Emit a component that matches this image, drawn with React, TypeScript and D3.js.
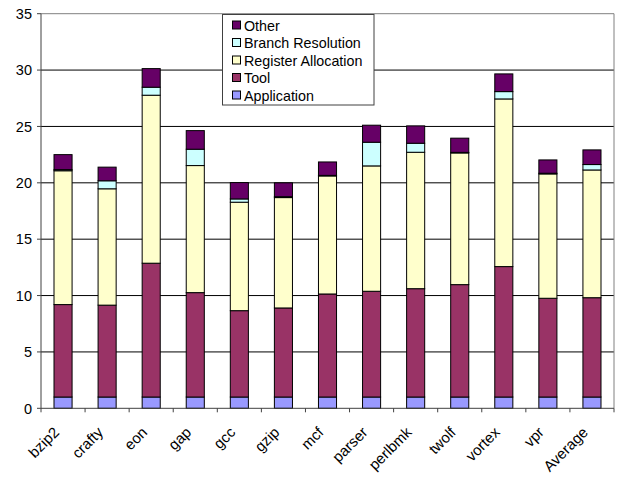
import React from "react";
import * as d3 from "d3";

const categories = ["bzip2", "crafty", "eon", "gap", "gcc", "gzip", "mcf", "parser", "perlbmk", "twolf", "vortex", "vpr", "Average"];
const application = [1.0, 1.0, 1.0, 1.0, 1.0, 1.0, 1.0, 1.0, 1.0, 1.0, 1.0, 1.0, 1.0];
const tool = [8.2, 8.15, 11.87, 9.26, 7.66, 7.9, 9.14, 9.38, 9.61, 9.97, 11.57, 8.76, 8.81];
const registerAllocation = [11.87, 10.32, 14.9, 11.27, 9.62, 9.79, 10.47, 11.12, 12.1, 11.68, 14.87, 11.03, 11.33];
const branchResolution = [0.1, 0.71, 0.71, 1.45, 0.29, 0.08, 0.05, 2.1, 0.8, 0.05, 0.65, 0.06, 0.48];
const other = [1.33, 1.21, 1.65, 1.65, 1.45, 1.23, 1.19, 1.51, 1.54, 1.26, 1.57, 1.18, 1.3];
const yTicks = [0, 5, 10, 15, 20, 25, 30, 35];

const seriesDefs = [
  { name: "Application", values: application, color: "#9999FF" },
  { name: "Tool", values: tool, color: "#993366" },
  { name: "Register Allocation", values: registerAllocation, color: "#FFFFCC" },
  { name: "Branch Resolution", values: branchResolution, color: "#CCFFFF" },
  { name: "Other", values: other, color: "#660066" },
];

const W = 623;
const H = 478;
const left = 41;
const right = 614;
const top = 13.7;
const bottom = 408.3;
const font = "'Liberation Sans', Arial, sans-serif";

export default function App() {
  const x = d3.scaleBand<string>().domain(categories).range([left, right]).paddingInner(0.59).paddingOuter(0.295);
  const xOuter = d3.scaleBand<string>().domain(categories).range([left, right]);
  const y = d3.scaleLinear().domain([0, 35]).range([bottom, top]);

  const rows = categories.map((c, i) => {
    const r: Record<string, number | string> = { cat: c };
    seriesDefs.forEach((s) => (r[s.name] = s.values[i]));
    return r;
  });
  const stacked = d3.stack<Record<string, number | string>>().keys(seriesDefs.map((s) => s.name))(rows as any);

  const legendItems = [...seriesDefs].reverse();

  return (
    <svg width={W} height={H} style={{ position: "absolute", left: 0, top: 0, background: "#fff" }} fontFamily={font}>
      {/* gridlines */}
      {yTicks.filter((t) => t > 0 && t < 35).map((t) => (
        <line key={t} x1={left} x2={right} y1={y(t)} y2={y(t)} stroke="#000" strokeWidth={1} />
      ))}
      {/* plot frame */}
      <line x1={left} x2={right} y1={top} y2={top} stroke="#808080" />
      <line x1={right} x2={right} y1={top} y2={bottom} stroke="#808080" />

      {/* bars */}
      {stacked.map((layer, li) => (
        <g key={layer.key} fill={seriesDefs[li].color}>
          {layer.map((d, i) => (
            <rect
              key={i}
              x={x(categories[i])!}
              y={y(d[1])}
              width={x.bandwidth()}
              height={Math.max(0, y(d[0]) - y(d[1]))}
              stroke="#000"
              strokeWidth={1}
            />
          ))}
        </g>
      ))}

      {/* y axis */}
      <line x1={left} x2={left} y1={top} y2={bottom} stroke="#404040" />
      {yTicks.map((t) => (
        <g key={t}>
          <line x1={left - 4} x2={left} y1={y(t)} y2={y(t)} stroke="#404040" />
          <text x={32} y={y(t)} dy="0.36em" textAnchor="end" fontSize={14.5} fill="#000">
            {t}
          </text>
        </g>
      ))}

      {/* x axis */}
      <line x1={left} x2={right} y1={bottom} y2={bottom} stroke="#404040" />
      {categories.map((c, i) => (
        <line key={"t" + i} x1={xOuter(c)!} x2={xOuter(c)!} y1={bottom} y2={bottom + 4} stroke="#404040" />
      ))}
      <line x1={right} x2={right} y1={bottom} y2={bottom + 4} stroke="#404040" />
      {categories.map((c) => {
        const cx = xOuter(c)! + xOuter.bandwidth() / 2 - 3;
        const cy = bottom + 25;
        return (
          <text key={c} transform={`translate(${cx},${cy}) rotate(-45)`} textAnchor="end" fontSize={15} fill="#000">
            {c}
          </text>
        );
      })}

      {/* legend */}
      <rect x={222.5} y={14.5} width={151.5} height={90.5} fill="#fff" stroke="#404040" />
      {legendItems.map((s, i) => {
        const cy = 25.5 + i * 17.5;
        return (
          <g key={s.name}>
            <rect x={232.5} y={cy - 4.5} width={8} height={8} fill={s.color} stroke="#000" />
            <text x={244} y={cy} dy="0.36em" fontSize={14.3} fill="#000">
              {s.name}
            </text>
          </g>
        );
      })}
    </svg>
  );
}
